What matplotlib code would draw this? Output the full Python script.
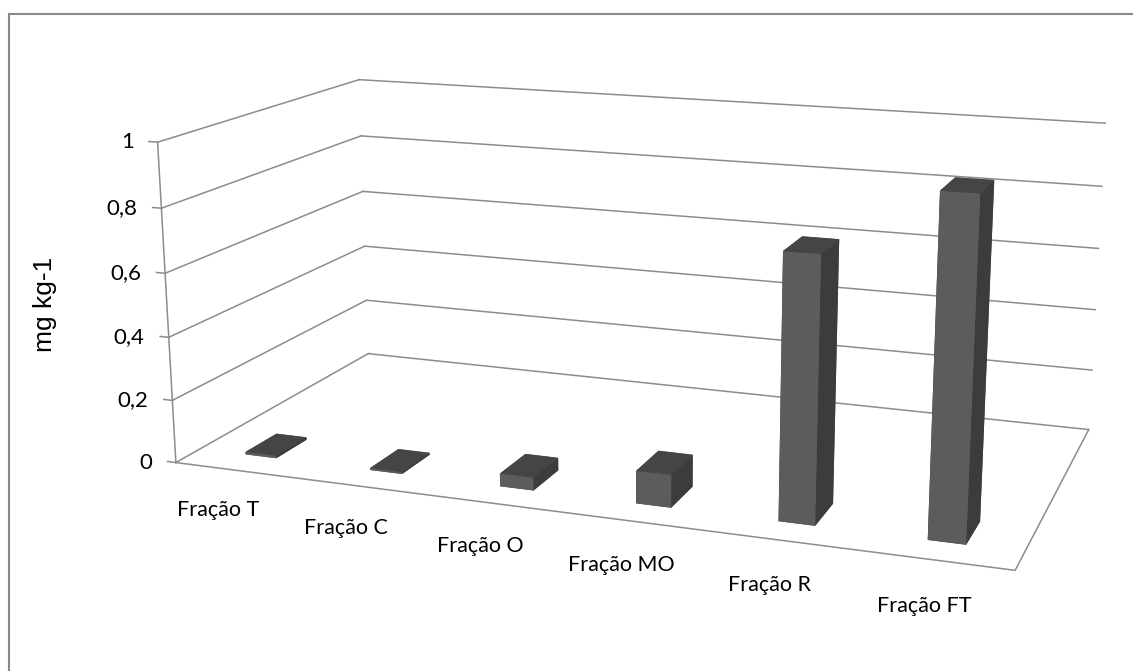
import numpy as np
import matplotlib
matplotlib.use("Agg")
import matplotlib.pyplot as plt
from matplotlib.lines import Line2D
from matplotlib.transforms import ScaledTranslation

plt.rcParams["font.family"] = ["Lato", "DejaVu Sans"]

categories = ["Fração T", "Fração C", "Fração O", "Fração MO", "Fração R", "Fração FT"]
values = [0.008, 0.006, 0.04, 0.10, 0.79, 0.99]
z_ticks = [0, 0.2, 0.4, 0.6, 0.8, 1.0]
z_tick_labels = ["0", "0,2", "0,4", "0,6", "0,8", "1"]

GRID = "#8c8c8c"
FRONT = "#5c5c5c"
TOP = "#454545"
SIDE = "#3c3c3c"

n = len(categories)
fig = plt.figure(figsize=(11.33, 6.71), dpi=100)
W, H = fig.get_size_inches() * fig.dpi

# square 3d axes as wide as the figure, so the projected box never gets clipped
side = W
cx, cy = 643, 379          # pixel position of the box centre
frac = 0.095 / 0.185       # where the view centre sits inside the 2d limits
ax = fig.add_axes([(cx - frac * side) / W, (cy - frac * side) / H, side / W, side / H],
                  projection="3d")
ax.set_proj_type("persp", focal_length=0.35)
ax.view_init(elev=14.4, azim=-70)
ax.set_box_aspect((2.59, 1.29, 1), zoom=0.848)
ax.set_xlim(0, n)
ax.set_ylim(0, 1)
ax.set_zlim(0, 1)
ax.set_axis_off()

# tick labels sit a fixed distance left of the value axis
label_shift = ax.transData + ScaledTranslation(-24 / 100, 0, fig.dpi_scale_trans)

# walls: gridlines on the side and back wall, value axis with ticks
for t, lab in zip(z_ticks, z_tick_labels):
    ax.plot([0, 0], [0, 1], [t, t], color=GRID, lw=1.1)
    ax.plot([0, n], [1, 1], [t, t], color=GRID, lw=1.1)
    ax.plot([-0.07, 0], [0, 0], [t, t], color=GRID, lw=1.1)
    ax.text(0, 0, t, lab, ha="right", va="center", fontsize=16, transform=label_shift)
ax.plot([0, 0], [0, 0], [0, 1], color=GRID, lw=1.1)

# floor outline (front and right edges)
ax.plot([0, n, n], [0, 0, 1], [0, 0, 0], color=GRID, lw=1.1)

# columns
bw, y0, bd = 0.25, 0.11, 0.15
xs = np.arange(n) + 0.5 - bw / 2
face_colors = []
for _ in range(n):
    # order used by bar3d: -z, +z, -y, +y, -x, +x
    face_colors += [TOP, TOP, FRONT, FRONT, SIDE, SIDE]
ax.bar3d(xs, np.full(n, y0), np.zeros(n), bw, bd, values,
         color=face_colors, shade=False)

for i, cat in enumerate(categories):
    ax.text(i + 0.5, -0.095, -0.086, cat, ha="center", va="center", fontsize=15.5)

fig.text(45 / W, 1 - 304 / H, "mg kg-1", rotation=90, ha="center", va="center",
         fontsize=19, family=["Liberation Sans", "DejaVu Sans"])

# chart area border (top and left only)
fig.add_artist(Line2D([9 / W, 9 / W], [0, 1 - 14 / H], transform=fig.transFigure,
                      color="#888888", lw=1.5))
fig.add_artist(Line2D([9 / W, 1], [1 - 14 / H, 1 - 14 / H], transform=fig.transFigure,
                      color="#888888", lw=1.5))

fig.savefig("out.png", dpi=100)
